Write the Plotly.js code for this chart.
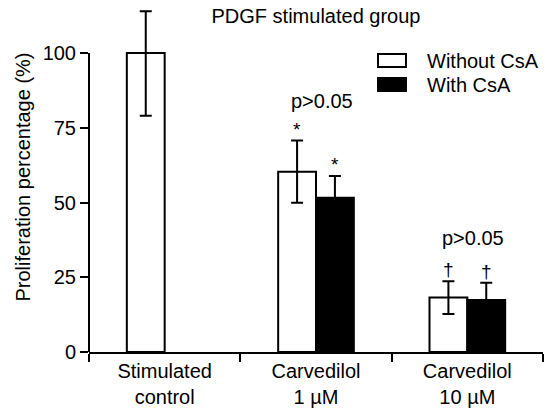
<!DOCTYPE html>
<html>
<head>
<meta charset="utf-8">
<script src="https://cdn.plot.ly/plotly-3.0.1.min.js"></script>
<style>html,body{margin:0;padding:0;background:#fff;}#chart{width:552px;height:414px;}</style>
</head>
<body>
<div id="chart"></div>
<script>
// ---- data ----
var categories = ['Stimulated<br>control', 'Carvedilol<br>1 µM', 'Carvedilol<br>10 µM'];
var seriesNames = ['Without CsA', 'With CsA'];
var withoutCsA = [100, 60.3, 18.2];
var withoutErrPlus = [14, 10.4, 5.5];
var withoutErrMinus = [21, 10.4, 5.5];
var withCsA = [null, 51.6, 17.4];
var withErr = [null, 7.3, 5.8];
var withoutMarks = ['', '*', '†'];
var withMarks = ['', '*', '†'];
var pLabels = ['', 'p>0.05', 'p>0.05'];
var pLabelY = [null, 84, 38];
var yTicks = [0, 25, 50, 75, 100];
var yAxisMax = 100;

var FONT = 'Liberation Sans, Arial, Helvetica, sans-serif';

var traces = [
  {
    type: 'bar', name: seriesNames[0], x: categories, y: withoutCsA,
    marker: {color: '#ffffff', line: {color: '#000', width: 2}},
    error_y: {type: 'data', symmetric: false, array: withoutErrPlus, arrayminus: withoutErrMinus,
              color: '#000', thickness: 2, width: 6},
    cliponaxis: false, showlegend: false, hoverinfo: 'none'
  },
  {
    type: 'bar', name: seriesNames[1], x: categories, y: withCsA,
    marker: {color: '#000000', line: {color: '#000', width: 2}},
    error_y: {type: 'data', array: withErr, color: '#000', thickness: 2, width: 6},
    cliponaxis: false, showlegend: false, hoverinfo: 'none'
  }
];

var annotations = [];
for (var i = 0; i < categories.length; i++) {
  if (withoutMarks[i]) {
    annotations.push({x: categories[i], y: withoutCsA[i] + withoutErrPlus[i], xref: 'x', yref: 'y',
      xshift: -19, yshift: -1, yanchor: 'bottom', showarrow: false, text: withoutMarks[i],
      font: {family: FONT, size: 19, color: '#000'}});
  }
  if (withMarks[i]) {
    annotations.push({x: categories[i], y: withCsA[i] + withErr[i], xref: 'x', yref: 'y',
      xshift: 19, yshift: -1, yanchor: 'bottom', showarrow: false, text: withMarks[i],
      font: {family: FONT, size: 19, color: '#000'}});
  }
  if (pLabels[i]) {
    annotations.push({x: categories[i], y: pLabelY[i], xref: 'x', yref: 'y',
      xshift: 6, yanchor: 'middle', showarrow: false, text: pLabels[i],
      font: {family: FONT, size: 20, color: '#000'}});
  }
}
// legend labels
annotations.push({x: 0.740, y: 0.8314, xref: 'paper', yref: 'paper', xanchor: 'left', yanchor: 'middle',
  showarrow: false, text: seriesNames[0], font: {family: FONT, size: 20, color: '#000'}});
annotations.push({x: 0.740, y: 0.7629, xref: 'paper', yref: 'paper', xanchor: 'left', yanchor: 'middle',
  showarrow: false, text: seriesNames[1], font: {family: FONT, size: 20, color: '#000'}});

var shapes = [
  // y axis line (only up to 100)
  {type: 'line', xref: 'paper', yref: 'y', x0: 0, x1: 0, y0: 0, y1: yAxisMax,
   line: {color: '#000', width: 2}},
  // legend swatches
  {type: 'rect', xref: 'paper', yref: 'paper', x0: 0.6366, x1: 0.6982, y0: 0.8143, y1: 0.8514,
   fillcolor: '#fff', line: {color: '#000', width: 2}},
  {type: 'rect', xref: 'paper', yref: 'paper', x0: 0.6366, x1: 0.6982, y0: 0.7457, y1: 0.7829,
   fillcolor: '#000', line: {color: '#000', width: 2}}
];

var layout = {
  width: 552, height: 414,
  margin: {l: 89, r: 9, t: 2, b: 62},
  paper_bgcolor: '#fff', plot_bgcolor: '#fff',
  font: {family: FONT, size: 20, color: '#000'},
  title: {text: 'PDGF stimulated group', x: 0.5, xref: 'paper', y: 0.962, yref: 'container',
          yanchor: 'middle', font: {family: FONT, size: 20, color: '#000'}},
  barmode: 'group', bargap: 0.5, bargroupgap: 0,
  showlegend: false,
  xaxis: {
    type: 'category', showline: true, linecolor: '#000', linewidth: 2,
    ticks: 'outside', tickson: 'boundaries', ticklen: 8, tickwidth: 2, tickcolor: '#000',
    showgrid: false, zeroline: false, tickfont: {family: FONT, size: 20, color: '#000'}
  },
  yaxis: {
    range: [0, 117.06], tickvals: yTicks, ticktext: yTicks.map(String),
    showline: false,
    ticks: 'outside', ticklen: 8, tickwidth: 2, tickcolor: '#000',
    showgrid: false, zeroline: false, tickfont: {family: FONT, size: 20, color: '#000'},
    title: {text: 'Proliferation percentage (%)', standoff: 6, font: {family: FONT, size: 20, color: '#000'}}
  },
  annotations: annotations,
  shapes: shapes
};

Plotly.newPlot('chart', traces, layout, {displayModeBar: false, staticPlot: true});
</script>
</body>
</html>
